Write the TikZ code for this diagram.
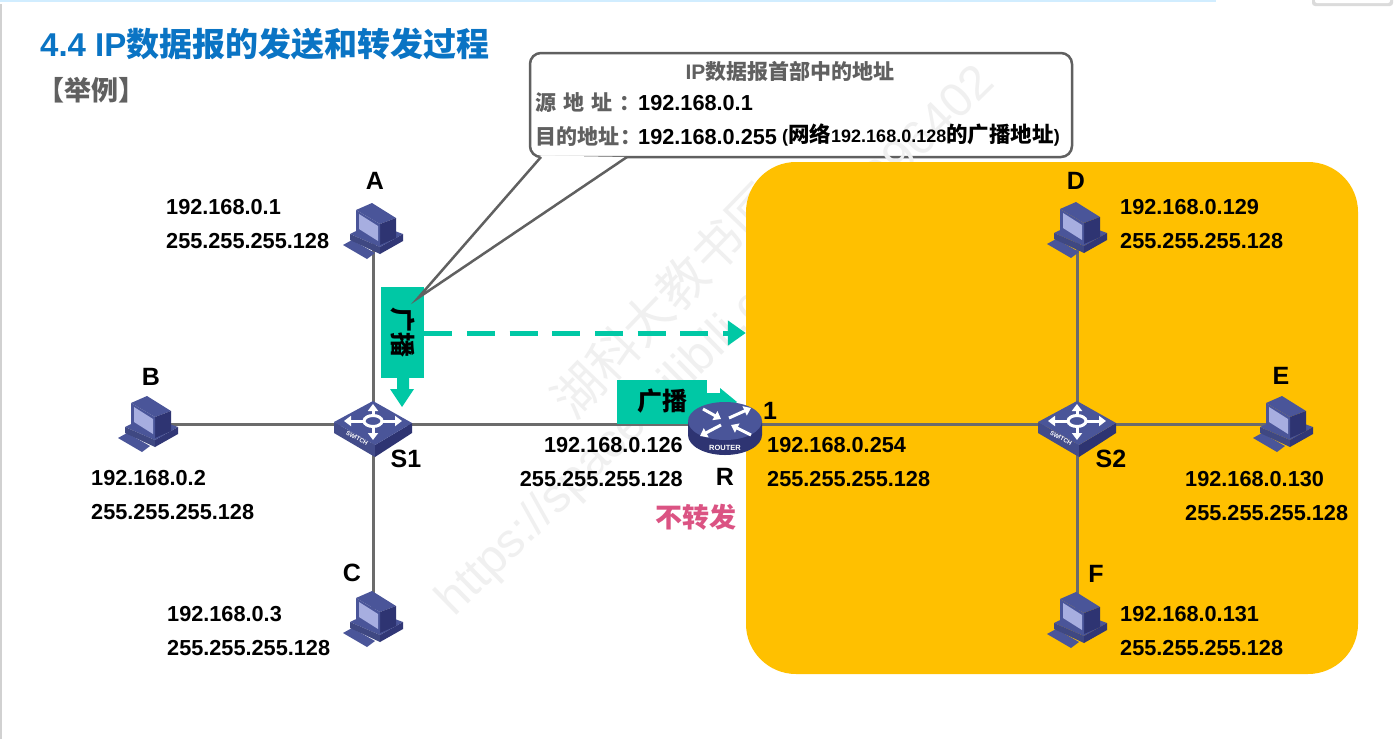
\documentclass[tikz,border=0pt]{standalone}
\usepackage{fontspec}
\setmainfont{Liberation Sans}
\newfontfamily\cjk{Noto Sans CJK SC}
\usetikzlibrary{arrows.meta}
\definecolor{bcast}{HTML}{00C8A5}
\definecolor{netfill}{HTML}{FFC000}
\definecolor{navy}{HTML}{2E3472}
\definecolor{midblue}{HTML}{4A5599}
\definecolor{screenblue}{HTML}{A7AEE0}
\definecolor{wirecol}{HTML}{6B6B6B}
\definecolor{titleblue}{HTML}{0A74C4}
\definecolor{notecol}{HTML}{606060}
\definecolor{nofwdcol}{HTML}{DB5383}
\tikzset{
  addr/.style={font=\fontsize{21.7}{34.5}\selectfont\bfseries,align=left,anchor=west,inner sep=0pt},
  addrr/.style={addr,align=right,anchor=east},
  tag/.style={font=\fontsize{25}{27}\selectfont\bfseries,inner sep=0pt},
  wire/.style={draw=wirecol,line width=3pt},
  bcastbox/.style={fill=bcast,inner sep=0pt},
  whitearrow/.style={white,line width=3pt,-{Triangle[length=7pt,width=10pt]}},
  pcicon/.pic={
    \fill[midblue] (-30,14) -- (-21,9) -- (2,22) -- (-6,28) -- cycle;
    \fill[midblue] (-23,3) -- (0,-8) -- (30,3) -- (7,16) -- cycle;
    \fill[midblue!85!black] (-23,3) -- (7,16) -- (7,23) -- (-23,9) -- cycle;
    \fill[navy!90!midblue] (7,16) -- (30,3) -- (30,10) -- (7,23) -- cycle;
    \fill[midblue] (-17,-21) -- (-1,-28) -- (23,-13) -- (7,-7) -- cycle;
    \fill[navy] (7,-7) -- (23,-13) -- (23,7) -- (7,14) -- cycle;
    \fill[midblue] (-17,-21) -- (7,-7) -- (7,14) -- (-17,1) -- cycle;
    \fill[screenblue] (-14,-17) -- (5,-5) -- (5,10) -- (-14,-2) -- cycle;
  },
  switchicon/.pic={
    \fill[midblue!90!black] (-39,-2) -- (2,21) -- (2,33) -- (-39,9) -- cycle;
    \fill[navy] (2,21) -- (39,-1) -- (39,9) -- (2,33) -- cycle;
    \fill[midblue] (-39,-2) -- (0,-23) -- (39,-1) -- (2,21) -- cycle;
    \draw[whitearrow] (-8,-3) -- (-29,-3);
    \draw[whitearrow] (8,-3) -- (29,-3);
    \draw[whitearrow] (0,-8) -- (0,-20);
    \draw[whitearrow] (0,2) -- (0,16);
    \draw[white,line width=3pt,fill=midblue] (0,-3) ellipse (9 and 5.5);
    \node[white,font=\fontsize{6}{7}\selectfont\bfseries,rotate=-29,inner sep=0pt] (swtext) at (-16,14) {SWITCH};
  },
  routericon/.pic={
    \fill[navy] (-37,-3) -- (-37,11) arc[start angle=180,end angle=0,x radius=37,y radius=20] -- (37,-3) -- cycle;
    \fill[midblue] (0,-3) ellipse (37 and 19);
    \draw[whitearrow] (-4,1) -- (-25,12);
    \draw[whitearrow] (4,-6) -- (26,-16);
    \draw[whitearrow] (-22,-15) -- (-4,-5);
    \draw[whitearrow] (26,11) -- (6,1);
    \node[white,font=\fontsize{7.5}{8}\selectfont\bfseries,inner sep=0pt] (rttext) at (0,24) {ROUTER};
  },
}
\begin{document}
\begin{tikzpicture}[x=1pt,y=-1pt]
\useasboundingbox (0,0) rectangle (1399,739);
\fill[white] (0,0) rectangle (1399,739);
% page edges
\fill[blue!40!cyan!18] (0,0) rectangle (1216,2);
\fill[black!18] (0,4) rectangle (1.5,739);
\fill[black!14,rounded corners=3pt] (1312,-6) rectangle (1393,6);
\fill[white,rounded corners=2pt] (1315,-6) rectangle (1390,3);
% callout
\node[draw=notecol,line width=2.5pt,fill=white,rounded corners=11pt,minimum width=542pt,minimum height=104pt,inner sep=0pt] (note) at (801,105) {};
\coordinate (tip) at (418,298);
\coordinate (taill) at (541,157);
\coordinate (tailr) at (627,157);
\fill[white] (taill) ++(0,-1.5) -- (tip) -- (tailr) ++(0,-1.5) -- cycle;
% watermark
\node[black!6,rotate=46,font=\fontsize{50}{54}\selectfont\cjk,inner sep=0pt] (markname) at (665,300) {湖科大教书匠};
\node[black!6,rotate=44.5,font=\fontsize{48}{52}\selectfont,inner sep=0pt] (markurl) at (717,342) {https://space.bilibili.com/360996402};
% switched network
\node[fill=netfill,rounded corners=50pt,minimum width=612pt,minimum height=512pt,inner sep=0pt] (net) at (1052,418) {};
% devices
\coordinate (A) at (373,231);
\coordinate (B) at (148,424);
\coordinate (C) at (373,619);
\coordinate (D) at (1077,230);
\coordinate (E) at (1283,424);
\coordinate (F) at (1077,620);
\coordinate (S1) at (373,424);
\coordinate (S2) at (1077,424);
\coordinate (R) at (725,424);
\draw[wire] (A) -- (S1);
\draw[wire] (B) -- (S1);
\draw[wire] (C) -- (S1);
\draw[wire] (S1) -- (R);
\draw[wire] (R) -- (S2);
\draw[wire] (D) -- (S2);
\draw[wire] (E) -- (S2);
\draw[wire] (F) -- (S2);
% broadcast arrows
\node[bcastbox,minimum width=43pt,minimum height=91pt] (vbox) at (402.5,332.5) {};
\node[bcastbox,minimum width=90pt,minimum height=44pt] (hbox) at (662,401.5) {};
\fill[bcast] (397,378) -- (409,378) -- (409,389) -- (414,389) -- (402,407) -- (390,389) -- (397,389) -- cycle;
\fill[bcast] (707,393) -- (720,393) -- (720,388) -- (737,402) -- (720,416) -- (720,411) -- (707,411) -- cycle;
\draw[draw=notecol,line width=2.5pt] (taill) -- (tip) -- (tailr);
\node[rotate=-90,font=\fontsize{25}{27}\selectfont\cjk\bfseries,inner sep=0pt] (vtext) at (vbox) {广播};
\node[font=\fontsize{25}{27}\selectfont\cjk\bfseries,inner sep=0pt] (htext) at (hbox) {广播};
\draw[bcast,line width=5pt,dash pattern=on 28pt off 14.7pt,-{Triangle[length=18pt,width=24pt]}] (vbox.east |- 0,333) -- (net.west |- 0,333);
\pic at (A) {pcicon};
\pic at (B) {pcicon};
\pic at (C) {pcicon};
\pic at (D) {pcicon};
\pic at (E) {pcicon};
\pic at (F) {pcicon};
\pic at (S1) {switchicon};
\pic at (S2) {switchicon};
\pic at (R) {routericon};
% labels
\node[tag] (lbla) at (375,181) {A};
\node[tag] (lblb) at (151,377) {B};
\node[tag] (lblc) at (352,573) {C};
\node[tag] (lbld) at (1076,181) {D};
\node[tag] (lble) at (1281,376) {E};
\node[tag] (lblf) at (1096,574) {F};
\node[tag] (lbls1) at (406,459) {S1};
\node[tag] (lbls2) at (1111,459) {S2};
\node[tag] (lblr) at (725,477) {R};
\node[tag] (lblport) at (770,411) {1};
\node[addr] (ipa) at (166,224) {192.168.0.1\\255.255.255.128};
\node[addr] (ipb) at (91,495) {192.168.0.2\\255.255.255.128};
\node[addr] (ipc) at (167,631) {192.168.0.3\\255.255.255.128};
\node[addrr] (ipr0) at (683,462) {192.168.0.126\\255.255.255.128};
\node[addr] (ipr1) at (767,462) {192.168.0.254\\255.255.255.128};
\node[addr] (ipd) at (1120,224) {192.168.0.129\\255.255.255.128};
\node[addr] (ipe) at (1185,496) {192.168.0.130\\255.255.255.128};
\node[addr] (ipf) at (1120,631) {192.168.0.131\\255.255.255.128};
\node[text=nofwdcol,font=\fontsize{27}{29}\selectfont\cjk\bfseries,inner sep=0pt] (nofwd) at (696,517) {不转发};
% title
\node[text=titleblue,font=\fontsize{33}{35}\selectfont\bfseries,anchor=west,inner sep=0pt] (title) at (40,44) {4.4 IP{\cjk 数据报的发送和转发过程}};
\node[text=notecol,font=\fontsize{27}{29}\selectfont\cjk\bfseries,anchor=west,inner sep=0pt] (example) at (37,90) {【举例】};
% callout text
\node[text=notecol,font=\fontsize{21}{23}\selectfont\bfseries,inner sep=0pt] (notehead) at (790,71) {IP{\cjk 数据报首部中的地址}};
\node[text=notecol,font=\fontsize{21}{23}\selectfont\cjk\bfseries,anchor=west,inner sep=0pt] (srclbl) at (535,103) {源\hspace{7pt}地\hspace{7pt}址\hspace{7pt}：};
\node[addr] (srcip) at (638,103) {192.168.0.1};
\node[text=notecol,font=\fontsize{21}{23}\selectfont\cjk\bfseries,anchor=west,inner sep=0pt] (dstlbl) at (535,137) {目的地址\hspace{1pt}：};
\node[addr] (dstip) at (638,137) {192.168.0.255};
\node[font=\fontsize{18}{20}\selectfont\bfseries,anchor=west,inner sep=0pt] (dstnote) at (782,135) {({\cjk\bfseries\fontsize{21.5}{24}\selectfont 网络}192.168.0.128{\cjk\bfseries\fontsize{21.5}{24}\selectfont 的广播地址})};
\end{tikzpicture}
\end{document}
